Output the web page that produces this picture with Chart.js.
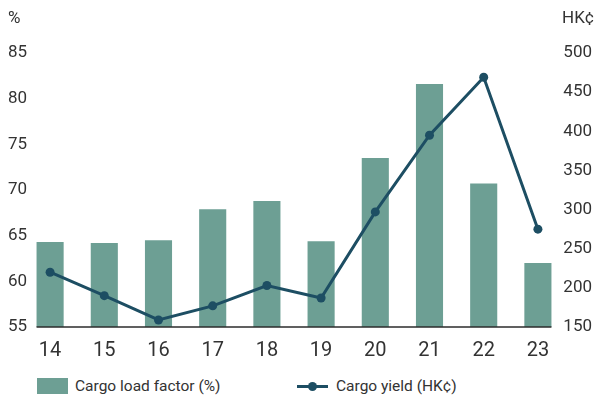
<!DOCTYPE html>
<html>
<head>
<meta charset="utf-8">
<script src="https://cdn.jsdelivr.net/npm/chart.js@4"></script>
<style>
  html, body { margin: 0; padding: 0; background: #fff; }
  #wrap { position: relative; width: 595px; height: 396px; font-family: Roboto, "Liberation Sans", sans-serif; color: #333; }
  #c { position: absolute; left: 0; top: 0; }
  .unit { position: absolute; top: 7px; font-size: 17px; color: #333; }
  .legend { position: absolute; top: 377px; font-size: 15.5px; color: #333; display: flex; align-items: center; }
  .box { width: 31px; height: 16px; background: #6d9f94; margin-right: 7px; }
  .lmark { position: relative; width: 31px; height: 16px; margin-right: 8px; }
  .lmark .ln { position: absolute; left: 0; right: 0; top: 6.5px; height: 3px; background: #1d4e63; }
  .lmark .dt { position: absolute; left: 11px; top: 3.5px; width: 9px; height: 9px; border-radius: 50%; background: #1d4e63; }
</style>
</head>
<body>
<div id="wrap">
  <canvas id="c" width="595" height="370"></canvas>
  <div class="unit" style="left:8px">%</div>
  <div class="unit" style="left:562px">HK¢</div>
  <div class="legend" style="left:37px"><div class="box"></div>Cargo load factor (%)</div>
  <div class="legend" style="left:297px"><div class="lmark"><div class="ln"></div><div class="dt"></div></div>Cargo yield (HK¢)</div>
</div>
<script>
const categories = ["14", "15", "16", "17", "18", "19", "20", "21", "22", "23"];
const loadFactor = [64.3, 64.2, 64.5, 67.9, 68.8, 64.4, 73.5, 81.6, 70.7, 62.0];
const cargoYield = [220, 190, 159, 177, 203, 187, 297, 395, 469, 275];
const leftTicks = [55, 60, 65, 70, 75, 80, 85];
const rightTicks = [150, 200, 250, 300, 350, 400, 450, 500];

const baseline = {
  id: 'baseline',
  afterDatasetsDraw(chart) {
    const meta = chart.getDatasetMeta(1);
    const first = meta.data[0], last = meta.data[meta.data.length - 1];
    const y = chart.scales.y.getPixelForValue(leftTicks[0]);
    const ctx = chart.ctx;
    ctx.save();
    ctx.strokeStyle = '#2b2b2b';
    ctx.lineWidth = 1.5;
    ctx.beginPath();
    ctx.moveTo(first.x - first.width / 2, y);
    ctx.lineTo(last.x + last.width / 2, y);
    ctx.stroke();
    ctx.restore();
  }
};

new Chart(document.getElementById('c'), {
  type: 'bar',
  data: {
    labels: categories,
    datasets: [
      {
        type: 'line',
        label: 'Cargo yield (HK¢)',
        data: cargoYield,
        yAxisID: 'y2',
        borderColor: '#1d4e63',
        backgroundColor: '#1d4e63',
        borderWidth: 3,
        pointRadius: 4.5,
        pointBackgroundColor: '#1d4e63',
        pointBorderWidth: 0,
        tension: 0,
        order: 0
      },
      {
        type: 'bar',
        label: 'Cargo load factor (%)',
        data: loadFactor,
        yAxisID: 'y',
        backgroundColor: '#6d9f94',
        barPercentage: 0.5,
        categoryPercentage: 1.0,
        order: 1
      }
    ]
  },
  options: {
    responsive: false,
    animation: false,
    devicePixelRatio: 1,
    layout: { padding: { top: 53, left: 8, right: 3, bottom: 0 } },
    plugins: { legend: { display: false }, tooltip: { enabled: false } },
    scales: {
      x: {
        offset: true,
        grid: { display: false, drawTicks: false },
        border: { display: false },
        ticks: { color: '#333', font: { family: 'Roboto', size: 20 }, padding: 12 },
        afterFit(s) { s.height = 43; }
      },
      y: {
        position: 'left',
        min: 55, max: 85,
        afterBuildTicks(s) { s.ticks = leftTicks.map(v => ({ value: v })); },
        grid: { display: false, drawTicks: false },
        border: { display: false },
        ticks: { color: '#333', font: { family: 'Roboto', size: 17 }, mirror: true, padding: -15 },
        afterFit(s) { s.width = 15; }
      },
      y2: {
        position: 'right',
        min: 150, max: 500,
        afterBuildTicks(s) { s.ticks = rightTicks.map(v => ({ value: v })); },
        grid: { display: false, drawTicks: false },
        border: { display: false },
        ticks: { color: '#333', font: { family: 'Roboto', size: 17 }, mirror: true, padding: 27 },
        afterFit(s) { s.width = 27; }
      }
    }
  },
  plugins: [baseline]
});
</script>
</body>
</html>
